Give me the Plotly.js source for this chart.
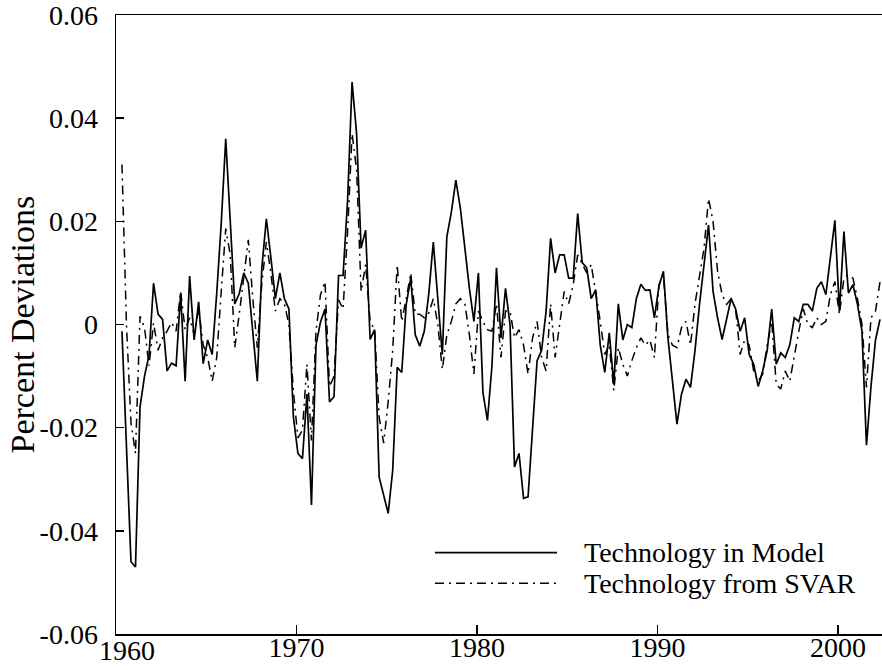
<!DOCTYPE html>
<html>
<head>
<meta charset="utf-8">
<script src="https://cdn.plot.ly/plotly-3.0.1.min.js"></script>
<style>
html,body{margin:0;padding:0;background:#fff;}
#chart{width:882px;height:670px;}
</style>
</head>
<body>
<div id="chart"></div>
<script>
// Quarterly series, first observation around 1960:Q2
const startYear = 1960.33;
const quarterStep = 0.25;

const seriesNames = ["Technology in Model", "Technology from SVAR"];

const techModel = [
 -0.0013,-0.024,-0.046,-0.047,-0.016,-0.010,-0.006,0.008,0.002,0.001,
 -0.009,-0.0075,-0.008,0.006,-0.011,0.0094,-0.003,0.0044,-0.0076,-0.003,
 -0.0058,0.006,0.0196,0.036,0.020,0.004,0.006,0.010,0.008,-0.002,
 -0.011,0.011,0.0205,0.013,0.005,0.010,0.005,0.003,-0.018,-0.025,
 -0.026,-0.0135,-0.035,-0.004,0.0005,0.003,-0.015,-0.014,0.0095,0.0095,
 0.024,0.047,0.037,0.0148,0.0183,-0.0029,-0.001,-0.0296,-0.033,-0.0366,
 -0.0283,-0.0083,-0.0093,0.0039,0.009,-0.002,-0.0042,-0.0013,0.006,0.016,
 0.005,-0.0058,0.017,0.0218,0.028,0.0225,0.0148,0.007,0.0006,0.010,
 -0.0132,-0.0186,-0.008,0.011,-0.0026,0.007,0.000,-0.0276,-0.025,-0.0337,
 -0.0334,-0.020,-0.007,-0.005,0.0026,0.0167,0.010,0.0135,0.0135,0.009,
 0.009,0.0215,0.012,0.011,0.005,0.0067,-0.004,-0.0093,-0.0016,-0.0116,
 0.0040,-0.003,0.000,-0.0006,0.005,0.0078,0.0066,0.0067,0.0013,0.0074,
 0.0103,-0.0026,-0.0116,-0.0193,-0.0135,-0.0106,-0.0122,-0.005,0.0039,0.012,
 0.0193,0.0064,0.0013,-0.0029,0.0013,0.005,0.003,-0.0013,0.0013,-0.0058,
 -0.0077,-0.012,-0.009,-0.005,0.003,-0.0077,-0.0055,-0.0064,-0.004,0.0013,
 0.0006,0.0039,0.0039,0.0026,0.007,0.0083,0.0058,0.0128,0.0202,0.0026,
 0.018,0.0061,0.0077,0.0039,-0.0013,-0.0234,-0.012,-0.003,0.001
];

const techSVAR = [
 0.031,0.000,-0.019,-0.025,0.0016,-0.0006,-0.008,0.0003,-0.005,-0.0026,
 -0.0013,0.0004,-0.0013,0.0064,-0.001,0.0013,-0.002,0.003,-0.004,-0.0064,
 -0.011,-0.0064,0.0064,0.0186,0.0135,-0.0045,0.002,0.009,0.0164,0.005,
 -0.0045,0.008,0.016,0.010,0.0026,0.005,0.004,0.000,-0.013,-0.022,
 -0.0205,-0.0077,-0.0225,-0.0013,0.0058,0.0083,-0.012,-0.010,0.0048,0.003,
 0.018,0.037,0.030,0.0064,0.0116,0.0006,-0.001,-0.018,-0.023,-0.015,
 -0.005,0.0116,0.0006,0.005,0.010,0.002,0.002,0.0013,0.0022,0.005,
 0.000,-0.0087,-0.002,0.0006,0.004,0.005,0.004,-0.002,-0.0096,0.0026,
 0.0006,-0.001,-0.0013,0.004,-0.0064,0.0026,0.0026,-0.0026,-0.001,-0.004,
 -0.0096,-0.0026,0.0006,-0.0064,-0.009,0.004,-0.0064,0.000,0.0064,0.004,
 0.0077,0.0135,0.0116,0.010,0.0116,0.0064,0.0006,-0.0058,-0.004,-0.0128,
 -0.0045,-0.0077,-0.010,-0.007,-0.0045,-0.0026,-0.004,-0.003,-0.0064,0.0077,
 0.0096,-0.002,-0.004,-0.0045,-0.0006,0.0006,-0.004,0.004,0.009,0.0148,
 0.0244,0.020,0.0103,0.0058,0.0039,0.005,0.003,-0.0058,-0.003,-0.004,
 -0.009,-0.011,-0.0096,-0.004,0.0006,-0.0116,-0.0125,-0.009,-0.011,-0.0058,
 -0.0013,0.003,0.000,-0.0006,0.0013,0.000,0.0006,0.0058,0.0083,0.002,
 0.009,0.0096,0.009,0.005,0.000,-0.0122,0.0013,0.0026,0.0083
];

const xTickVals = [1960, 1970, 1980, 1990, 2000];
const xTickText = ["1960", "1970", "1980", "1990", "2000"];
const yTickVals = [-0.06, -0.04, -0.02, 0, 0.02, 0.04, 0.06];
const yTickText = ["-0.06", "-0.04", "-0.02", "0", "0.02", "0.04", "0.06"];
const yTitle = "Percent Deviations";

const quarters = techModel.map((_, i) => startYear + i * quarterStep);

const FONT = "Liberation Serif, Times New Roman, serif";
const dashDot = "9px,5px,2px,5px";

// first x label is nudged right (as in the reference) so it clears "-0.06"
const axisTickText = xTickText.map((t, i) => (i === 0 ? "" : t));

const traces = [
  {x: quarters, y: techModel, type: "scatter", mode: "lines", name: seriesNames[0],
   line: {color: "#000", width: 1.7}, showlegend: false},
  {x: quarters, y: techSVAR, type: "scatter", mode: "lines", name: seriesNames[1],
   line: {color: "#000", width: 1.5, dash: dashDot}, showlegend: false}
];

const layout = {
  width: 882, height: 670,
  margin: {l: 116, r: 0, t: 15, b: 36, pad: 0},
  paper_bgcolor: "#fff", plot_bgcolor: "#fff",
  font: {family: FONT, size: 28, color: "#000"},
  xaxis: {
    range: [1960, 2002.44], tickvals: xTickVals, ticktext: axisTickText,
    showgrid: false, zeroline: false, showline: true, mirror: true,
    linecolor: "#000", linewidth: 1.5, ticks: "inside", ticklen: 9, tickwidth: 1.5,
    tickcolor: "#000", ticklabelstandoff: -12, ticklabeloverflow: "allow",
    tickfont: {family: FONT, size: 28, color: "#000"}
  },
  yaxis: {
    range: [-0.06, 0.06], tickvals: yTickVals, ticktext: yTickText,
    showgrid: false, zeroline: false, showline: true, mirror: false,
    linecolor: "#000", linewidth: 1.5, ticks: "inside", ticklen: 8, tickwidth: 1.5,
    tickcolor: "#000", ticklabelstandoff: 11, ticklabeloverflow: "allow",
    tickfont: {family: FONT, size: 28, color: "#000"}
  },
  shapes: [
    {type: "line", xref: "paper", yref: "paper", x0: 0.4164, x1: 0.5757, y0: 0.1316, y1: 0.1316,
     line: {color: "#000", width: 1.7}},
    {type: "line", xref: "paper", yref: "paper", x0: 0.4164, x1: 0.5757, y0: 0.0819, y1: 0.0819,
     line: {color: "#000", width: 1.5, dash: dashDot}}
  ],
  annotations: [
    {xref: "x", yref: "paper", x: xTickVals[0], y: 0, xanchor: "center", yanchor: "top",
     xshift: 11, yshift: 1, text: xTickText[0], showarrow: false,
     font: {family: FONT, size: 28, color: "#000"}},
    {xref: "paper", yref: "paper", x: 0.6084, y: 0.1316, xanchor: "left", yanchor: "middle",
     text: seriesNames[0], showarrow: false, font: {family: FONT, size: 28, color: "#000"}},
    {xref: "paper", yref: "paper", x: 0.6084, y: 0.0819, xanchor: "left", yanchor: "middle",
     text: seriesNames[1], showarrow: false, font: {family: FONT, size: 28, color: "#000"}},
    {xref: "paper", yref: "paper", x: -0.1227, y: 0.5, xanchor: "center", yanchor: "middle",
     textangle: -90, text: yTitle, showarrow: false, font: {family: FONT, size: 34, color: "#000"}}
  ]
};

Plotly.newPlot("chart", traces, layout, {staticPlot: true, displayModeBar: false});
</script>
</body>
</html>
